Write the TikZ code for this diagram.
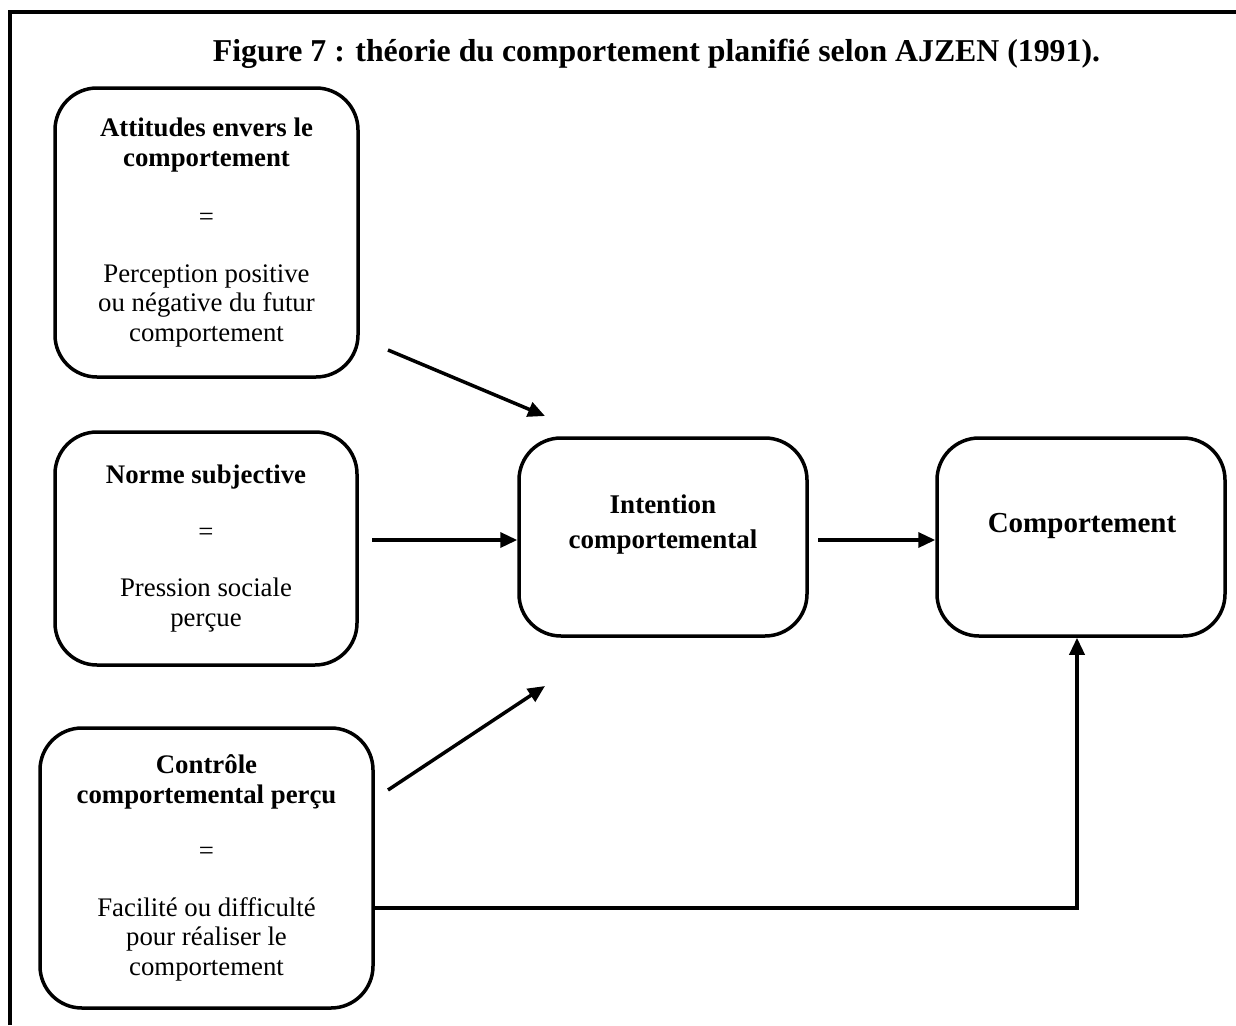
\documentclass[tikz,border=0pt]{standalone}
\usepackage{fontspec}
\setmainfont{Liberation Serif}
\usetikzlibrary{arrows.meta}

\begin{document}
\begin{tikzpicture}[x=1pt,y=-1pt]
\tikzset{
  boxnode/.style={draw, line width=3.5pt, rounded corners=42pt, align=center,
                  inner sep=0pt, font=\fontsize{26.8}{29.5}\selectfont},
  link/.style={line width=3.5pt, -{Triangle[length=17pt,width=15pt]}},
  frameline/.style={line width=4pt},
}
\useasboundingbox (0,0) rectangle (1236,1025);

% outer frame (top and left edges)
\draw[frameline] (10,1025) -- (10,12) -- (1236,12);

% title
\node[anchor=base] (title) at (656.5,61)
  {\fontsize{31.8}{36}\selectfont\bfseries Figure 7 : théorie du comportement planifié selon AJZEN (1991).};

% the three determinants
\node[boxnode, minimum width=303pt, minimum height=289pt] (A) at (206.5,232.5)
  {{\bfseries Attitudes envers le}\\{\bfseries comportement}\\[30pt]
   =\\[27pt]
   Perception positive\\ou négative du futur\\comportement};

\node[boxnode, minimum width=302pt, minimum height=233pt] (N) at (206,548.5)
  {{\bfseries Norme subjective}\\[27pt]
   =\\[27pt]
   Pression sociale\\perçue};

\node[boxnode, minimum width=333pt, minimum height=280pt] (C) at (206.5,868)
  {{\bfseries Contrôle}\\{\bfseries comportemental perçu}\\[27pt]
   =\\[27pt]
   Facilité ou difficulté\\pour réaliser le\\comportement};

% intention and behaviour
\node[boxnode, minimum width=288pt, minimum height=198pt] (I) at (663,537) {};
\node[boxnode, minimum width=288pt, minimum height=198pt] (B) at (1081,537) {};

\node[align=center, font=\fontsize{27}{35}\selectfont\bfseries, anchor=base] (Itext) at (663,548)
  {Intention\\comportemental};
\node[font=\fontsize{29}{35}\selectfont\bfseries, anchor=base] (Btext) at (1082,532)
  {Comportement};

% connectors
\coordinate (a1) at (388,350);
\coordinate (a2) at (545,416);
\coordinate (n1) at (372,540);
\coordinate (i1) at (818,540);
\coordinate (c1) at (388,790);
\coordinate (c2) at (545,686);
\coordinate (cb) at (1077,908);

\draw[link] (a1) -- (a2);
\draw[link] (n1) -- (n1 -| I.west);
\draw[link] (c1) -- (c2);
\draw[link] (i1) -- (i1 -| B.west);
\draw[link, rounded corners=0pt] (C.east |- cb) -- (cb) -- (B.south -| cb);

\end{tikzpicture}
\end{document}
